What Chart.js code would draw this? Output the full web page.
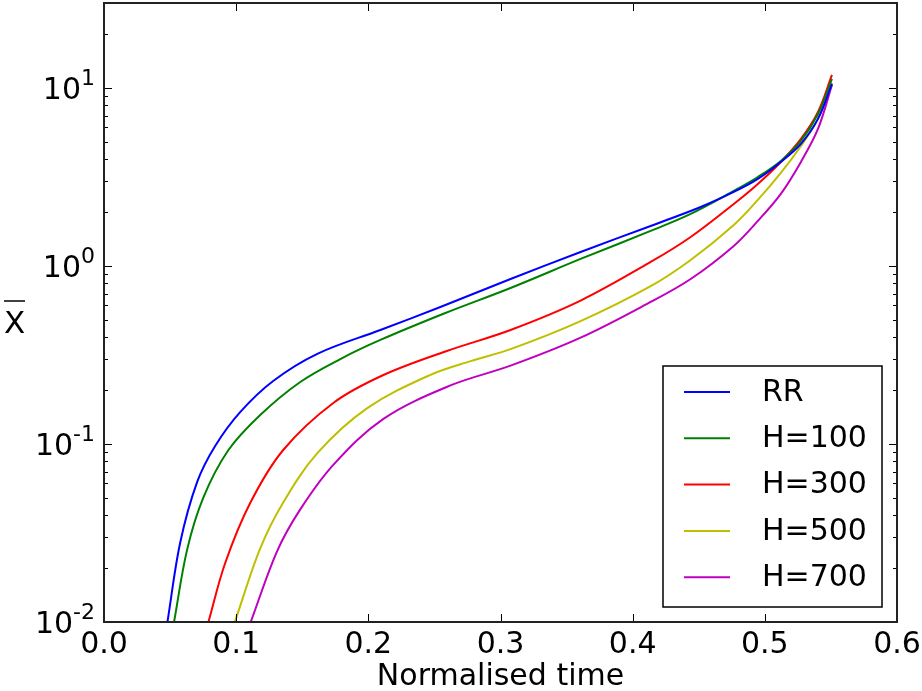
<!DOCTYPE html>
<html>
<head>
<meta charset="utf-8">
<script src="https://cdn.jsdelivr.net/npm/chart.js@4.4.0/dist/chart.umd.min.js"></script>
<style>
  html, body { margin: 0; padding: 0; background: #fff; }
</style>
</head>
<body>
<canvas id="chartCanvas" width="922" height="691"></canvas>
<script>
// series labels / colours (matplotlib classic b, g, r, y, m)
const seriesLabels = ['RR', 'H=100', 'H=300', 'H=500', 'H=700'];
const seriesColors = ['#0000ff', '#008000', '#ff0000', '#bfbf00', '#bf00bf'];

// normalised time and X-bar values
const timeRR = [0.048, 0.0576, 0.0705, 0.0841, 0.103, 0.128, 0.1614, 0.2091, 0.2545, 0.3076, 0.3606, 0.4136, 0.4515, 0.4765, 0.4947, 0.5121, 0.5273, 0.5402, 0.5508];
const xbarRR = [0.01, 0.0278, 0.0612, 0.0974, 0.151, 0.226, 0.321, 0.437, 0.588, 0.845, 1.198, 1.678, 2.145, 2.604, 3.083, 3.84, 4.85, 6.70, 10.53];

const timeH100 = [0.053, 0.0629, 0.075, 0.0939, 0.1182, 0.1485, 0.1788, 0.2091, 0.2583, 0.3076, 0.3606, 0.4136, 0.4439, 0.4765, 0.4947, 0.5121, 0.5273, 0.5402, 0.5508];
const xbarH100 = [0.01, 0.0255, 0.0497, 0.0919, 0.1455, 0.223, 0.300, 0.384, 0.544, 0.752, 1.095, 1.573, 1.96, 2.64, 3.16, 3.89, 5.04, 7.14, 11.24];

const timeH300 = [0.079, 0.0917, 0.1106, 0.1356, 0.1735, 0.2114, 0.2583, 0.3076, 0.3606, 0.4136, 0.4439, 0.4765, 0.4947, 0.5121, 0.5273, 0.5402, 0.5508];
const xbarH300 = [0.01, 0.02145, 0.0466, 0.0925, 0.170, 0.244, 0.331, 0.437, 0.639, 1.053, 1.455, 2.23, 2.89, 3.84, 5.17, 7.33, 11.83];

const timeH500 = [0.099, 0.1182, 0.1356, 0.1614, 0.1992, 0.247, 0.2773, 0.3076, 0.3606, 0.4136, 0.4439, 0.4765, 0.4947, 0.5121, 0.5273, 0.5402, 0.5508];
const xbarH500 = [0.01, 0.0259, 0.0469, 0.0888, 0.159, 0.2446, 0.292, 0.341, 0.49, 0.770, 1.081, 1.70, 2.35, 3.33, 4.72, 6.70, 10.67];

const timeH700 = [0.111, 0.1311, 0.1485, 0.1735, 0.2114, 0.2621, 0.3076, 0.3606, 0.4136, 0.4439, 0.4765, 0.4947, 0.5121, 0.5273, 0.5402, 0.5508];
const xbarH700 = [0.01, 0.0251, 0.0429, 0.0763, 0.1384, 0.2132, 0.2754, 0.3956, 0.628, 0.845, 1.296, 1.79, 2.54, 3.84, 5.88, 10.4];

const allTimes = [timeRR, timeH100, timeH300, timeH500, timeH700];
const allValues = [xbarRR, xbarH100, xbarH300, xbarH500, xbarH700];

// ticks
const xTickValues = [0, 0.1, 0.2, 0.3, 0.4, 0.5, 0.6];
const yDecades = [0.01, 0.1, 1, 10];
const yExponents = ['-2', '-1', '0', '1'];

const FONT = 'DejaVu Sans';

function toPoints(ts, vs) {
    return ts.map((t, i) => ({ x: t, y: vs[i] }));
}

// matplotlib-like frame, inward ticks, log labels, y label and legend box
const classicAxes = {
    id: 'classicAxes',
    afterDraw(chart) {
        const ctx = chart.ctx;
        const area = chart.chartArea;
        const xs = chart.scales.x;
        const ys = chart.scales.y;

        ctx.save();
        ctx.strokeStyle = '#000';
        ctx.lineWidth = 1;

        // x major ticks, bottom and top
        xTickValues.forEach(v => {
            const px = Math.round(xs.getPixelForValue(v)) + 0.5;
            ctx.beginPath();
            ctx.moveTo(px, area.bottom); ctx.lineTo(px, area.bottom - 8);
            ctx.moveTo(px, area.top); ctx.lineTo(px, area.top + 8);
            ctx.stroke();
        });

        // y major + minor ticks, left and right
        yDecades.forEach(d => {
            for (let m = 1; m <= 9; m++) {
                const v = d * m;
                if (v > ys.max) break;
                const py = Math.round(ys.getPixelForValue(v)) + 0.5;
                const len = m === 1 ? 8 : 4;
                ctx.beginPath();
                ctx.moveTo(area.left, py); ctx.lineTo(area.left + len, py);
                ctx.moveTo(area.right, py); ctx.lineTo(area.right - len, py);
                ctx.stroke();
            }
        });

        // frame
        ctx.lineWidth = 2;
        ctx.strokeStyle = '#222';
        ctx.strokeRect(area.left, area.top, area.right - area.left, area.bottom - area.top);

        // y tick labels 10^n
        ctx.fillStyle = '#000';
        ctx.textAlign = 'right';
        ctx.textBaseline = 'alphabetic';
        yDecades.forEach((d, i) => {
            const py = ys.getPixelForValue(d);
            const xr = area.left - 9;
            ctx.font = '22px "' + FONT + '"';
            const w = ctx.measureText(yExponents[i]).width;
            ctx.fillText(yExponents[i], xr, py - 3);
            ctx.font = '30px "' + FONT + '"';
            ctx.fillText('10', xr - w, py + 11);
        });

        // y axis label: X with a bar
        ctx.font = '31px "' + FONT + '"';
        ctx.textAlign = 'center';
        ctx.fillText('X', 14.5, 333);
        ctx.lineWidth = 1.5;
        ctx.strokeStyle = '#000';
        ctx.beginPath();
        ctx.moveTo(4, 301); ctx.lineTo(25, 301);
        ctx.stroke();

        // legend box
        const bw = 219, bh = 241;
        const bx = area.right - 15 - bw;
        const by = area.bottom - 15 - bh;
        ctx.fillStyle = '#fff';
        ctx.fillRect(bx, by, bw, bh);
        ctx.lineWidth = 1.5;
        ctx.strokeStyle = '#000';
        ctx.strokeRect(bx, by, bw, bh);
        ctx.font = '30px "' + FONT + '"';
        ctx.textAlign = 'left';
        ctx.textBaseline = 'middle';
        chart.data.datasets.forEach((ds, i) => {
            const ry = by + 26 + i * 46.3;
            ctx.strokeStyle = ds.borderColor;
            ctx.lineWidth = 2;
            ctx.beginPath();
            ctx.moveTo(bx + 21, ry); ctx.lineTo(bx + 67, ry);
            ctx.stroke();
            ctx.fillStyle = '#000';
            ctx.fillText(ds.label, bx + 99, ry + 1);
        });

        ctx.restore();
    }
};

const ctx = document.querySelector('#chartCanvas');

const graph = new Chart(ctx, {
    type: 'line',
    data: {
        datasets: seriesLabels.map((label, i) => ({
            label: label,
            data: toPoints(allTimes[i], allValues[i]),
            borderColor: seriesColors[i],
            backgroundColor: seriesColors[i],
            borderWidth: 2,
            pointRadius: 0,
            fill: false,
            tension: 0.35
        }))
    },
    options: {
        responsive: false,
        animation: false,
        layout: { padding: { top: 3, right: 25, left: 0, bottom: 0 } },
        plugins: {
            legend: { display: false },
            tooltip: { enabled: false }
        },
        scales: {
            x: {
                type: 'linear',
                min: 0,
                max: 0.6,
                afterBuildTicks: (s) => { s.ticks = xTickValues.map(v => ({ value: v })); },
                afterFit: (s) => {
                    s.height = 69;
                    s.paddingLeft = 0;
                    s.paddingRight = 0;
                },
                grid: { display: false },
                border: { display: false },
                ticks: {
                    color: '#000',
                    font: { family: FONT, size: 30 },
                    padding: -3,
                    maxRotation: 0,
                    callback: (v) => Number(v).toFixed(1)
                },
                title: {
                    display: true,
                    text: 'Normalised time',
                    color: '#000',
                    font: { family: FONT, size: 30 },
                    padding: { top: 0, bottom: -4 }
                }
            },
            y: {
                type: 'logarithmic',
                min: 0.01,
                max: 30,
                afterFit: (s) => { s.width = 104; },
                grid: { display: false },
                border: { display: false },
                ticks: { display: false }
            }
        }
    },
    plugins: [classicAxes]
});
</script>
</body>
</html>
